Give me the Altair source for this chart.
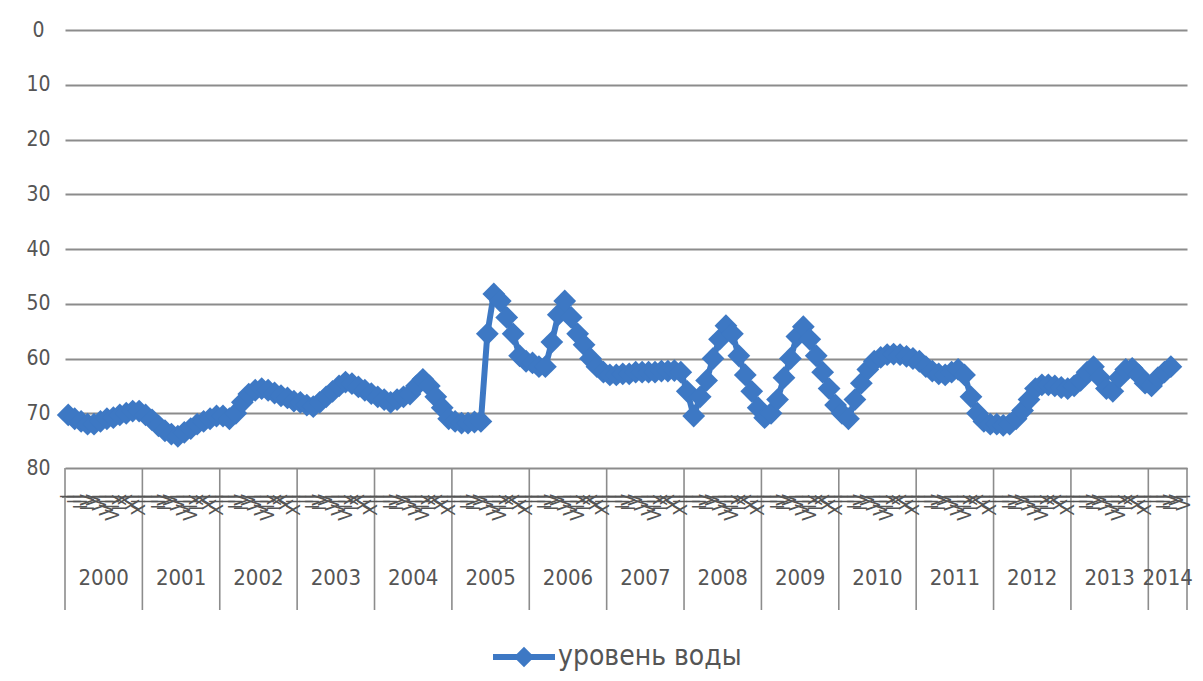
import altair as alt
import pandas as pd

series_name = "уровень воды"
years = [str(y) for y in range(2000, 2015)]
month_labels = ["I", "II", "III", "IV", "V", "VI", "VII", "VIII", "IX", "X", "XI", "XII"]
months_per_year = [12] * 14 + [6]
y_ticks = [0, 10, 20, 30, 40, 50, 60, 70, 80]

level_2000 = [70.3, 71.0, 71.5, 72.0, 72.0, 71.5, 71.0, 70.8, 70.3, 70.0, 69.6, 69.6]
level_2001 = [70.3, 71.2, 72.3, 73.2, 73.8, 74.2, 73.5, 72.8, 72.0, 71.5, 71.0, 70.5]
level_2002 = [70.5, 71.0, 70.0, 68.0, 66.5, 65.8, 65.5, 65.8, 66.3, 66.8, 67.2, 67.8]
level_2003 = [68.0, 68.5, 68.8, 68.0, 67.0, 66.0, 65.0, 64.3, 64.6, 65.2, 65.8, 66.4]
level_2004 = [67.0, 67.5, 68.0, 67.5, 67.0, 66.5, 65.0, 63.8, 65.0, 67.0, 69.0, 71.0]
level_2005 = [71.5, 71.8, 71.8, 71.6, 71.5, 55.5, 48.2, 49.5, 52.5, 55.5, 59.5, 60.5]
level_2006 = [60.8, 61.5, 61.5, 57.0, 52.0, 49.5, 52.5, 55.5, 57.5, 60.0, 61.5, 62.5]
level_2007 = [63.0, 63.0, 62.8, 62.8, 62.5, 62.5, 62.5, 62.5, 62.3, 62.3, 62.2, 62.5]
level_2008 = [66.0, 70.5, 67.0, 64.0, 60.0, 56.5, 54.0, 55.5, 59.5, 63.0, 66.0, 69.0]
level_2009 = [70.8, 70.0, 67.5, 63.5, 60.0, 56.0, 54.2, 56.5, 59.5, 62.5, 65.5, 68.5]
level_2010 = [70.0, 71.0, 67.5, 64.5, 62.0, 60.5, 59.8, 59.3, 59.2, 59.3, 59.6, 60.0]
level_2011 = [60.5, 61.5, 62.3, 62.8, 63.0, 62.5, 62.0, 63.0, 67.0, 70.0, 71.5, 72.0]
level_2012 = [72.0, 72.2, 72.0, 71.0, 69.5, 67.5, 65.5, 64.8, 64.8, 65.0, 65.3, 65.5]
level_2013 = [65.0, 64.0, 62.5, 61.5, 63.5, 65.5, 66.0, 63.5, 62.0, 61.8, 63.0, 64.5]
level_2014 = [65.0, 63.5, 62.5, 61.5]

levels = [level_2000, level_2001, level_2002, level_2003, level_2004, level_2005,
          level_2006, level_2007, level_2008, level_2009, level_2010, level_2011,
          level_2012, level_2013, level_2014]

BLUE = "#3d78c4"
GRID = "#8c8c8c"
TEXT = "#555555"
FONT = "DejaVu Sans Condensed, DejaVu Sans, sans-serif"

rows, month_rows, year_rows, bounds = [], [], [], []
idx = 0
for yr, n, vals in zip(years, months_per_year, levels):
    start = idx
    bounds.append(start)
    for m in range(n):
        month_rows.append({"pos": idx + 0.5, "label": month_labels[m]})
        if m < len(vals):
            rows.append({"pos": idx + 0.5, "level": vals[m], "year": yr, "month": month_labels[m]})
        idx += 1
    year_rows.append({"mid": (start + idx) / 2, "year": yr})
bounds.append(idx)
total = idx

df = pd.DataFrame(rows)
months_df = pd.DataFrame(month_rows)
years_df = pd.DataFrame(year_rows)
bounds_df = pd.DataFrame({"b": bounds})

W, H = 1122, 438
xscale = alt.Scale(domain=[0, total], nice=False, zero=False)
yscale = alt.Scale(domain=[0, 80], reverse=True, nice=False, zero=False)

base = alt.Chart(df)
line = base.mark_line(color=BLUE, strokeWidth=6).encode(
    x=alt.X("pos:Q", scale=xscale, axis=None),
    y=alt.Y("level:Q", scale=yscale, axis=alt.Axis(
        values=y_ticks, grid=True, gridColor=GRID, gridWidth=2, domain=False, ticks=False,
        labelFont=FONT, labelFontSize=21, labelColor=TEXT, labelPadding=27,
        labelAlign="center", title=None)),
)
points = base.mark_point(shape="diamond", filled=True, size=520, color=BLUE, opacity=1).encode(
    x=alt.X("pos:Q", scale=xscale),
    y=alt.Y("level:Q", scale=yscale),
)

dividers = alt.Chart(bounds_df).mark_rule(color=GRID, strokeWidth=1.6).encode(
    x=alt.X("b:Q", scale=xscale),
    y=alt.value(H),
    y2=alt.value(H + 142),
)

axis_line = alt.Chart(pd.DataFrame({"k": [0]})).mark_rule(color=GRID, strokeWidth=2).encode(
    x=alt.value(-3), x2=alt.value(W), y=alt.value(H + 29),
)

month_text = alt.Chart(months_df).mark_text(
    angle=270, align="right", baseline="middle", font=FONT, fontSize=19, color=TEXT
).encode(
    x=alt.X("pos:Q", scale=xscale),
    y=alt.value(H + 26),
    text="label:N",
)

year_text = alt.Chart(years_df).mark_text(
    align="center", baseline="middle", font=FONT, fontSize=22, color=TEXT
).encode(
    x=alt.X("mid:Q", scale=xscale),
    y=alt.value(H + 110),
    text="year:N",
)

legend_df = pd.DataFrame({"label": [series_name]})
leg_line = alt.Chart(legend_df).mark_rule(color=BLUE, strokeWidth=6).encode(
    x=alt.value(428), x2=alt.value(490), y=alt.value(H + 189),
)
leg_point = alt.Chart(legend_df).mark_point(shape="diamond", filled=True, size=420, color=BLUE, opacity=1).encode(
    x=alt.value(459), y=alt.value(H + 189),
)
leg_text = alt.Chart(legend_df).mark_text(
    align="left", baseline="middle", font=FONT, fontSize=28, color=TEXT
).encode(
    x=alt.value(493), y=alt.value(H + 189), text="label:N",
)

chart = alt.layer(
    line, points, dividers, axis_line, month_text, year_text, leg_line, leg_point, leg_text
).properties(
    width=W, height=H,
    autosize=alt.AutoSizeParams(type="none"),
    padding={"left": 57, "top": 22, "right": 8, "bottom": 210},
    background="white",
).configure_view(stroke=None)

chart.save("out.html", embed_options={"renderer": "svg", "actions": False})
